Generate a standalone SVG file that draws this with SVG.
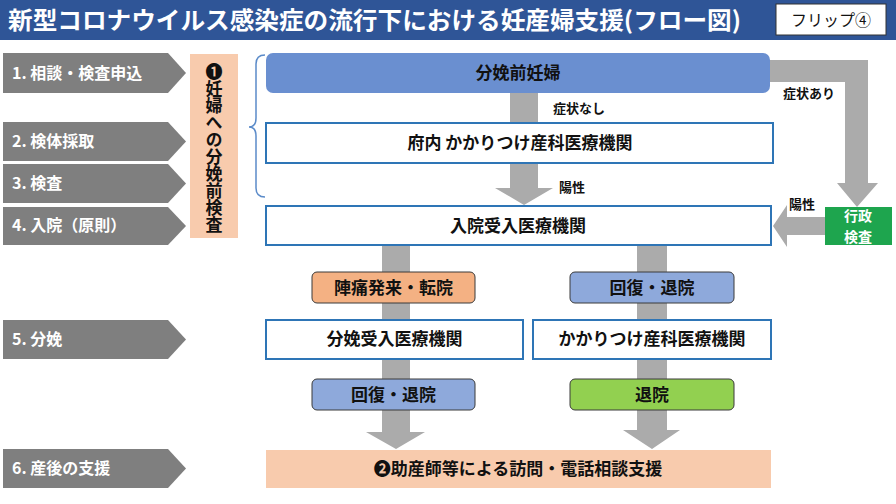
<svg xmlns="http://www.w3.org/2000/svg" width="896" height="504" viewBox="0 0 896 504">
<style>
text{font-family:"Noto Sans CJK JP","Noto Sans CJK SC",sans-serif;}
.step{fill:#7F7F7F;}
.stept{fill:#fff;font-size:16px;font-weight:bold;}
.box{fill:#fff;stroke:#2E75B6;stroke-width:2;}
.bt{fill:#111;font-size:17px;font-weight:bold;text-anchor:middle;}
.lbl{fill:#111;font-size:13px;font-weight:bold;}
.conn{fill:#ABABAB;}
.sm{stroke:#3A3A3A;stroke-width:1;}
</style>
<rect width="896" height="504" fill="#fff"/>
<g id="title">
<rect x="0" y="0" width="896" height="40" fill="#2F5597"/>
<text x="8" y="29" fill="#fff" font-size="24" font-weight="bold" textLength="733" lengthAdjust="spacingAndGlyphs">新型コロナウイルス感染症の流行下における妊産婦支援(フロー図)</text>
<rect x="776" y="4" width="110" height="31" fill="#fff" stroke="#333" stroke-width="1"/>
<text x="831" y="26" fill="#111" font-size="16" text-anchor="middle">フリップ④</text>
</g>
<g id="steps">
<polygon class="step" points="3,53 168,53 186,73 168,93 3,93"/>
<text class="stept" x="12" y="79">1. 相談・検査申込</text>
<polygon class="step" points="3,122 168,122 186,141.5 168,161 3,161"/>
<text class="stept" x="12" y="147">2. 検体採取</text>
<polygon class="step" points="3,164 168,164 186,183.5 168,203 3,203"/>
<text class="stept" x="12" y="189">3. 検査</text>
<polygon class="step" points="3,207 168,207 186,226 168,245 3,245"/>
<text class="stept" x="12" y="231">4. 入院（原則）</text>
<polygon class="step" points="3,320 168,320 186,339.5 168,359 3,359"/>
<text class="stept" x="12" y="345">5. 分娩</text>
<polygon class="step" points="3,449 168,449 186,468.5 168,488 3,488"/>
<text class="stept" x="12" y="474">6. 産後の支援</text>
</g>
<g id="prenatal-test">
<rect x="190" y="54" width="48" height="184" fill="#F8CBAD"/>
<text x="214" y="63" fill="#111" font-size="17" font-weight="bold" writing-mode="vertical-rl" style="writing-mode:vertical-rl">❶妊婦への分娩前検査</text>
</g>
<g id="brace">
<path d="M265,55 Q256,55 256,64 L256,118 Q256,127 249,127 Q256,127 256,136 L256,188 Q256,197 265,197" fill="none" stroke="#5B8BC9" stroke-width="1.5"/>
</g>
<g id="connectors">
<polygon class="conn" points="510,90 538,90 538,188 553,188 524,205 495,188 510,188"/>
<polygon class="conn" points="768,60 868,60 868,183 878,183 857,207 837,183 845,183 845,82 768,82"/>
<polygon class="conn" points="826,217 787,217 787,205 773,226 787,247 787,235 826,235"/>
<polygon class="conn" points="382,245 410,245 410,432 425,432 396,449 366,432 382,432"/>
<polygon class="conn" points="637,245 667,245 667,430 680,430 652,449 623,430 637,430"/>
<text class="lbl" x="553" y="113">症状なし</text>
<text class="lbl" x="559" y="192">陽性</text>
<text class="lbl" x="783" y="98">症状あり</text>
<text class="lbl" x="789" y="209">陽性</text>
</g>
<g id="pregnant">
<rect x="266" y="53" width="504" height="40" rx="7" fill="#6A8FD0"/>
<text class="bt" x="518" y="79">分娩前妊婦</text>
</g>
<g id="local-clinic">
<rect class="box" x="266" y="123" width="507" height="40"/>
<text class="bt" x="520" y="149">府内 かかりつけ産科医療機関</text>
</g>
<g id="admission">
<rect class="box" x="266" y="206" width="505" height="39"/>
<text class="bt" x="518" y="232">入院受入医療機関</text>
</g>
<g id="admin-test">
<rect x="825" y="207" width="67" height="38" fill="#1EA54E"/>
<text fill="#fff" font-size="14" font-weight="bold" text-anchor="middle"><tspan x="858" y="221">行政</tspan><tspan x="858" y="242">検査</tspan></text>
</g>
<g id="labor">
<rect class="sm" x="312" y="272" width="163" height="31" rx="5" fill="#F4B183"/>
<text class="bt" x="393.5" y="294">陣痛発来・転院</text>
</g>
<g id="recover1">
<rect class="sm" x="570" y="272" width="164" height="31" rx="5" fill="#8EA9DB"/>
<text class="bt" x="652" y="294">回復・退院</text>
</g>
<g id="delivery">
<rect class="box" x="266" y="320" width="257" height="39"/>
<text class="bt" x="394.5" y="345">分娩受入医療機関</text>
</g>
<g id="clinic2">
<rect class="box" x="533" y="320" width="238" height="39"/>
<text class="bt" x="652" y="345">かかりつけ産科医療機関</text>
</g>
<g id="recover2">
<rect class="sm" x="312" y="379" width="163" height="31" rx="5" fill="#8EA9DB"/>
<text class="bt" x="393.5" y="401">回復・退院</text>
</g>
<g id="discharge">
<rect class="sm" x="570" y="379" width="164" height="31" rx="5" fill="#92D050"/>
<text class="bt" x="652" y="401">退院</text>
</g>
<g id="support">
<rect x="266" y="450" width="505" height="38" fill="#F8CBAD"/>
<text class="bt" x="518" y="475">❷助産師等による訪問・電話相談支援</text>
</g>
</svg>
